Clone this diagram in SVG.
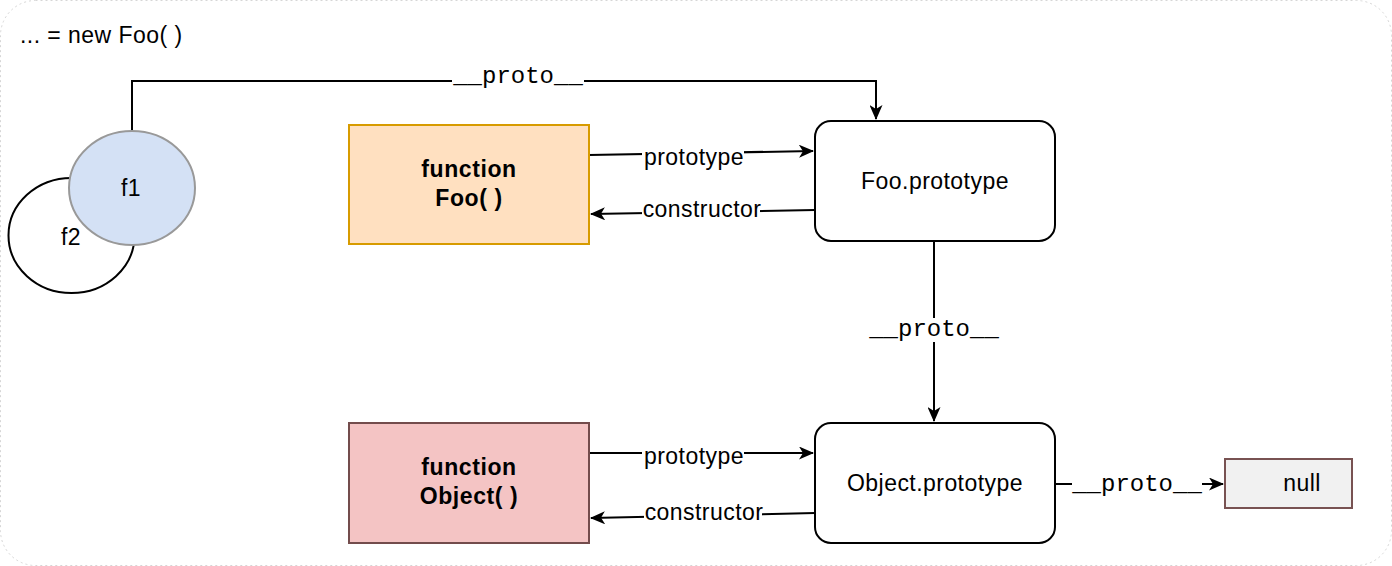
<svg xmlns="http://www.w3.org/2000/svg" width="1392" height="566" viewBox="0 0 1392 566">
<style>
.t{font-family:"Liberation Sans",Arial,sans-serif;font-size:23px;letter-spacing:0.45px;fill:#000;text-anchor:middle}
.b{font-weight:bold;letter-spacing:0.6px}
.m{font-family:"Liberation Mono","Courier New",monospace;font-size:24px;fill:#000;text-anchor:middle}
.c{fill:none;stroke:#000;stroke-width:2}
.lbl{fill:#fff}
</style>
<defs>
<marker id="ah" markerWidth="15" markerHeight="13" refX="14" refY="6.5" orient="auto" markerUnits="userSpaceOnUse">
<path d="M0,0 L15,6.5 L0,13 L4,6.5 Z" fill="#000"/>
</marker>
</defs>
<rect x="0.5" y="0.5" width="1391" height="565" rx="35" fill="#fff" stroke="#d6d6d6" stroke-dasharray="2 3"/>
<text x="20" y="43" class="t" style="text-anchor:start">... = new Foo( )</text>

<g id="connectors">
<path class="c" d="M132,131 V81 H876 V119" marker-end="url(#ah)"/>
<rect class="lbl" x="452" y="66" width="132" height="22"/>
<text class="m" x="518" y="83">__proto__</text>

<path class="c" d="M589,155 L813,151" marker-end="url(#ah)"/>
<rect class="lbl" x="642" y="145" width="102" height="24"/>
<text class="t" x="694" y="165">prototype</text>

<path class="c" d="M815,210 L591,214" marker-end="url(#ah)"/>
<rect class="lbl" x="642" y="199" width="118" height="24"/>
<text class="t" x="702" y="217">constructor</text>

<path class="c" d="M934,241 V421" marker-end="url(#ah)"/>
<rect class="lbl" x="868" y="318" width="132" height="24"/>
<text class="m" x="934" y="336">__proto__</text>

<path class="c" d="M589,453 L813,453" marker-end="url(#ah)"/>
<rect class="lbl" x="642" y="444" width="102" height="24"/>
<text class="t" x="694" y="464">prototype</text>

<path class="c" d="M815,513 L591,518" marker-end="url(#ah)"/>
<rect class="lbl" x="644" y="502" width="118" height="24"/>
<text class="t" x="704" y="520">constructor</text>

<path class="c" d="M1055,484 L1223,484" marker-end="url(#ah)"/>
<rect class="lbl" x="1072" y="472" width="130" height="24"/>
<text class="m" x="1137" y="491">__proto__</text>
</g>

<g id="f2">
<ellipse cx="71.5" cy="235.5" rx="63" ry="57.5" fill="#fff" stroke="#000" stroke-width="2"/>
<text class="t" x="71" y="245">f2</text>
</g>
<g id="f1">
<ellipse cx="132" cy="188" rx="63" ry="57" fill="#d4e1f5" stroke="#999" stroke-width="2"/>
<text class="t" x="131" y="196">f1</text>
</g>

<g id="functionFoo">
<rect x="349" y="125" width="240" height="119" fill="#ffe0c0" stroke="#d79b00" stroke-width="2"/>
<text class="t b" x="469" y="177">function</text>
<text class="t b" x="469" y="206">Foo( )</text>
</g>

<g id="fooPrototype">
<rect x="815" y="121" width="240" height="120" rx="16" fill="#fff" stroke="#000" stroke-width="2"/>
<text class="t" x="935" y="189">Foo.prototype</text>
</g>

<g id="functionObject">
<rect x="349" y="423" width="240" height="120" fill="#f4c4c4" stroke="#734c4c" stroke-width="2"/>
<text class="t b" x="469" y="475">function</text>
<text class="t b" x="469" y="504">Object( )</text>
</g>

<g id="objectPrototype">
<rect x="815" y="423" width="240" height="120" rx="16" fill="#fff" stroke="#000" stroke-width="2"/>
<text class="t" x="935" y="491">Object.prototype</text>
</g>

<g id="null">
<rect x="1225" y="459" width="127" height="49" fill="#f1f1f1" stroke="#785252" stroke-width="2"/>
<text class="t" x="1302" y="491">null</text>
</g>
</svg>
